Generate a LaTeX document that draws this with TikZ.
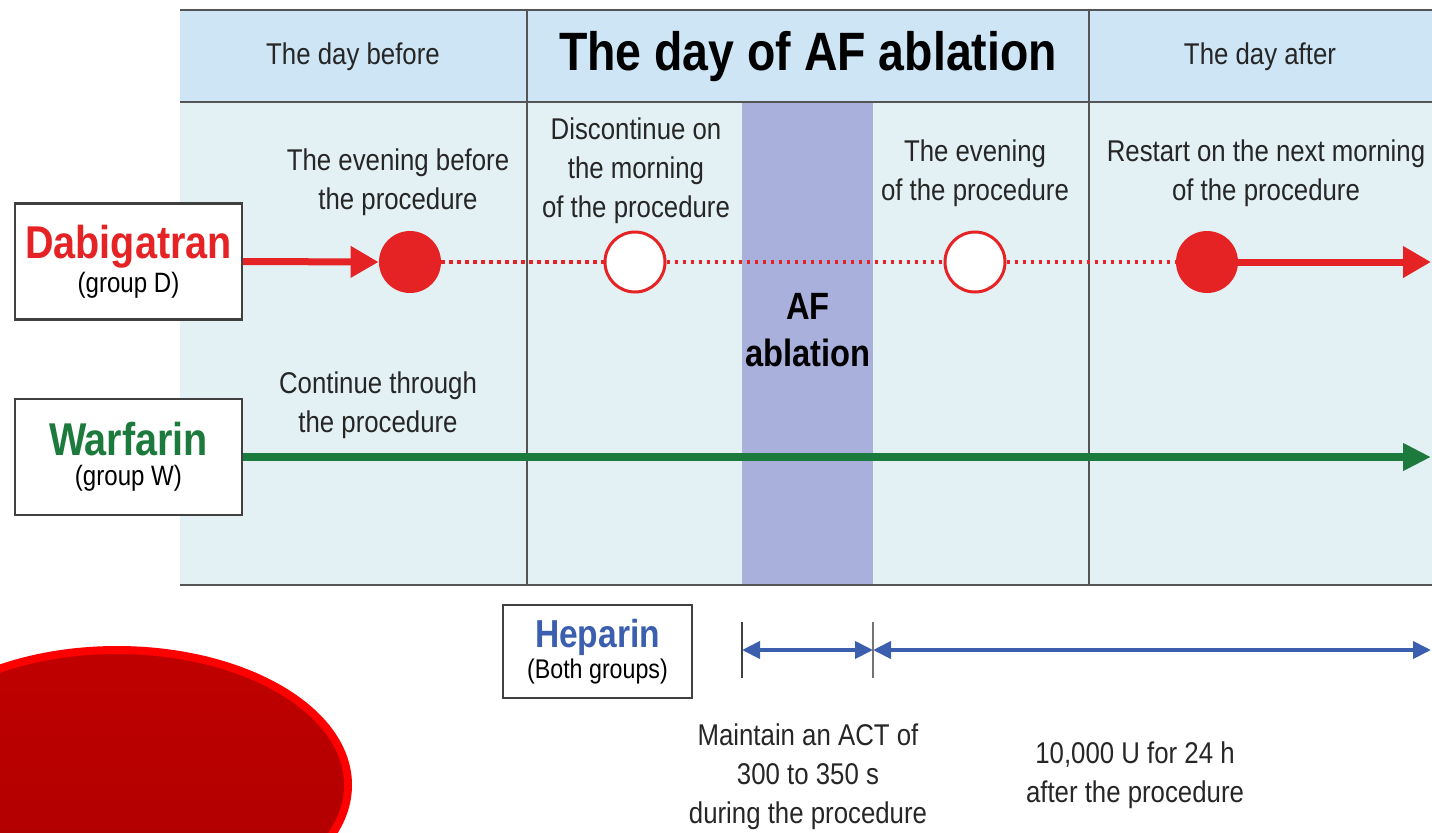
\documentclass[tikz,border=0pt]{standalone}
\usepackage{fontspec}
\setmainfont[FakeStretch=0.86]{Liberation Sans}
\usetikzlibrary{arrows.meta,positioning}
\definecolor{hdrblue}{HTML}{CDE5F4}
\definecolor{bodyblue}{HTML}{E3F1F4}
\definecolor{afband}{HTML}{A9B0DC}
\definecolor{dabired}{HTML}{E52325}
\definecolor{warfgreen}{HTML}{1B7A3C}
\definecolor{hepblue}{HTML}{3B5FAE}
\definecolor{gridgray}{HTML}{555555}
\tikzset{
  note/.style={align=center,font=\fontsize{15}{19.5}\selectfont,text=black!85},
  drugbox/.style={draw=black!75,line width=1.2pt,fill=white,align=center,
    minimum width=113.5pt,minimum height=58pt,inner sep=0pt},
  fulldot/.style={circle,fill=dabired,minimum size=31pt,inner sep=0pt},
  opendot/.style={circle,draw=dabired,line width=1.5pt,fill=white,minimum size=30pt,inner sep=0pt},
  redline/.style={dabired,line width=3.5pt},
  redarrow/.style={redline,-{Triangle[length=14pt,width=15pt]}},
  greenarrow/.style={warfgreen,line width=4pt,-{Triangle[length=14pt,width=13pt]}},
  dotline/.style={dabired,line width=1.8pt,dash pattern=on 1.8pt off 2.2pt},
  hepline/.style={hepblue,line width=2pt,{Triangle[length=9pt,width=8.5pt]}-{Triangle[length=9pt,width=8.5pt]}},
  tick/.style={black!75,line width=0.8pt}
}

\begin{document}
\begin{tikzpicture}[x=0.5pt,y=-0.5pt]
\useasboundingbox (0,0) rectangle (1432,832);
% red blob bottom left
\draw[red,line width=4pt,top color=red!75!black,bottom color=red!68!black] (117,785) ellipse [x radius=231,y radius=135];
% table
\fill[bodyblue] (180,102) rectangle (1432,585);
\fill[hdrblue] (180,10) rectangle (1432,102);
\fill[afband] (742,102) rectangle (873,585);
\draw[gridgray,line width=1pt] (180,10) -- (1432,10) (180,102) -- (1432,102) (180,585) -- (1432,585);
\draw[gridgray,line width=0.8pt] (527,10) -- (527,585) (1089,10) -- (1089,585);
\node[note] (before) at (353,57) {The day before};
\node[font=\fontsize{27}{30}\selectfont\bfseries] (today) at (808,57) {The day of AF ablation};
\node[note] (after) at (1260,57) {The day after};
\node[align=center,font=\fontsize{19}{23.5}\selectfont\bfseries] (afabl) at (808,330) {AF\\ablation};

% drugs
\node[drugbox] (dabi) at (128.5,261.5) {{\fontsize{23}{23}\selectfont\bfseries\textcolor{dabired}{Dabigatran}}\\[1pt]{\fontsize{14}{17}\selectfont(group D)}};
\node[drugbox] (warf) at (128.5,457) {{\fontsize{23}{23}\selectfont\bfseries\textcolor{warfgreen}{Warfarin}}\\[3pt]{\fontsize{14}{17}\selectfont(group W)}};
\node[drugbox,minimum width=94.5pt,minimum height=46.5pt] (hep) at (597.5,651.5) {{\fontsize{19.5}{20}\selectfont\bfseries\textcolor{hepblue}{Heparin}}\\[1pt]{\fontsize{13.5}{15}\selectfont(Both groups)}};

% dabigatran timeline
\node[fulldot] (d1) at (410,262) {};
\node[opendot] (d2) at (635,262) {};
\node[opendot] (d3) at (975,262) {};
\node[fulldot] (d4) at (1207,262) {};
\coordinate (dend) at (1431,262);
\draw[redarrow] (dabi.east) -- (d1.west);
\draw[dotline] (d1) -- (d2);
\draw[dotline] (d2) -- (d3);
\draw[dotline] (d3) -- (d4);
\draw[redarrow] (d4.center) -- (dend);

% warfarin timeline
\coordinate (wend) at (1431,457);
\draw[greenarrow] (warf.east) -- (wend);

\node[note] (evb) at (398,182) {The evening before\\the procedure};
\node[note] (disc) at (636,171) {Discontinue on\\the morning\\of the procedure};
\node[note] (evp) at (975,173) {The evening\\of the procedure};
\node[note] (rest) at (1266,173) {Restart on the next morning\\of the procedure};
\node[note] (cont) at (378,405) {Continue through\\the procedure};

% heparin
\coordinate (t1) at (742,650);
\coordinate (t2) at (873,650);
\coordinate (hend) at (1431,650);
\draw[tick] ([yshift=14pt]t1) -- ([yshift=-14pt]t1);
\draw[tick,black!55] ([yshift=14pt]t2) -- ([yshift=-14pt]t2);
\draw[hepline] (t1) -- (t2);
\draw[hepline] (t2) -- (hend);
\node[note] (act) at (808,777) {Maintain an ACT of\\300 to 350 s\\during the procedure};
\node[note] (post) at (1135,775) {10,000 U for 24 h\\after the procedure};
\end{tikzpicture}
\end{document}
